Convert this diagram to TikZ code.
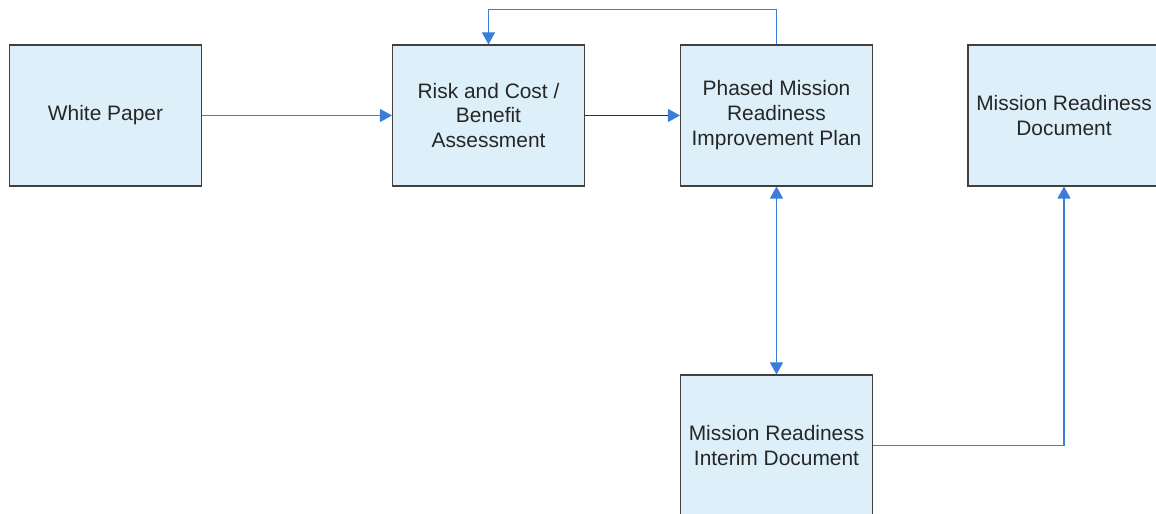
\documentclass[tikz,border=0pt]{standalone}
\usepackage{fontspec}
\setmainfont{Liberation Sans}
\usetikzlibrary{arrows.meta}
\definecolor{boxfill}{HTML}{DDF0FA}
\definecolor{flowblue}{HTML}{3C7DD9}
\begin{document}
\begin{tikzpicture}[
    >={Triangle[length=0.24cm, width=0.26cm, color=flowblue]},
    box/.style={rectangle, draw=black!75, line width=0.6pt, fill=boxfill,
        minimum width=3.84cm, minimum height=2.82cm, align=center,
        text=black!85, font=\fontsize{11.9}{14.2}\selectfont},
    flow/.style={->, draw=flowblue, line width=0.6pt}]
    \useasboundingbox (0,0) rectangle (23.12,10.28);
    \node[box] (paper) at (2.11, 7.97) {White Paper};
    \node[box] (risk) at (9.77, 7.97) {Risk and Cost /\\Benefit\\Assessment};
    \node[box] (phased) at (15.53, 7.97) {Phased Mission\\Readiness\\Improvement Plan};
    \node[box] (final) at (21.28, 7.97) {Mission Readiness\\Document};
    \node[box] (interim) at (15.53, 1.37) {Mission Readiness\\Interim Document};
    \coordinate (loop) at (15.53, 10.09); % top of the feedback line

    \draw[flow] (paper) -- (risk);
    \draw[flow, draw=black!80] (risk) -- (phased);
    \draw[flow] (phased.north) -- (loop) -| (risk.north); % back to assessment
    \draw[flow, <->] (phased) -- (interim);
    \draw[flow] (interim.east) -| (final.south);
\end{tikzpicture}
\end{document}
